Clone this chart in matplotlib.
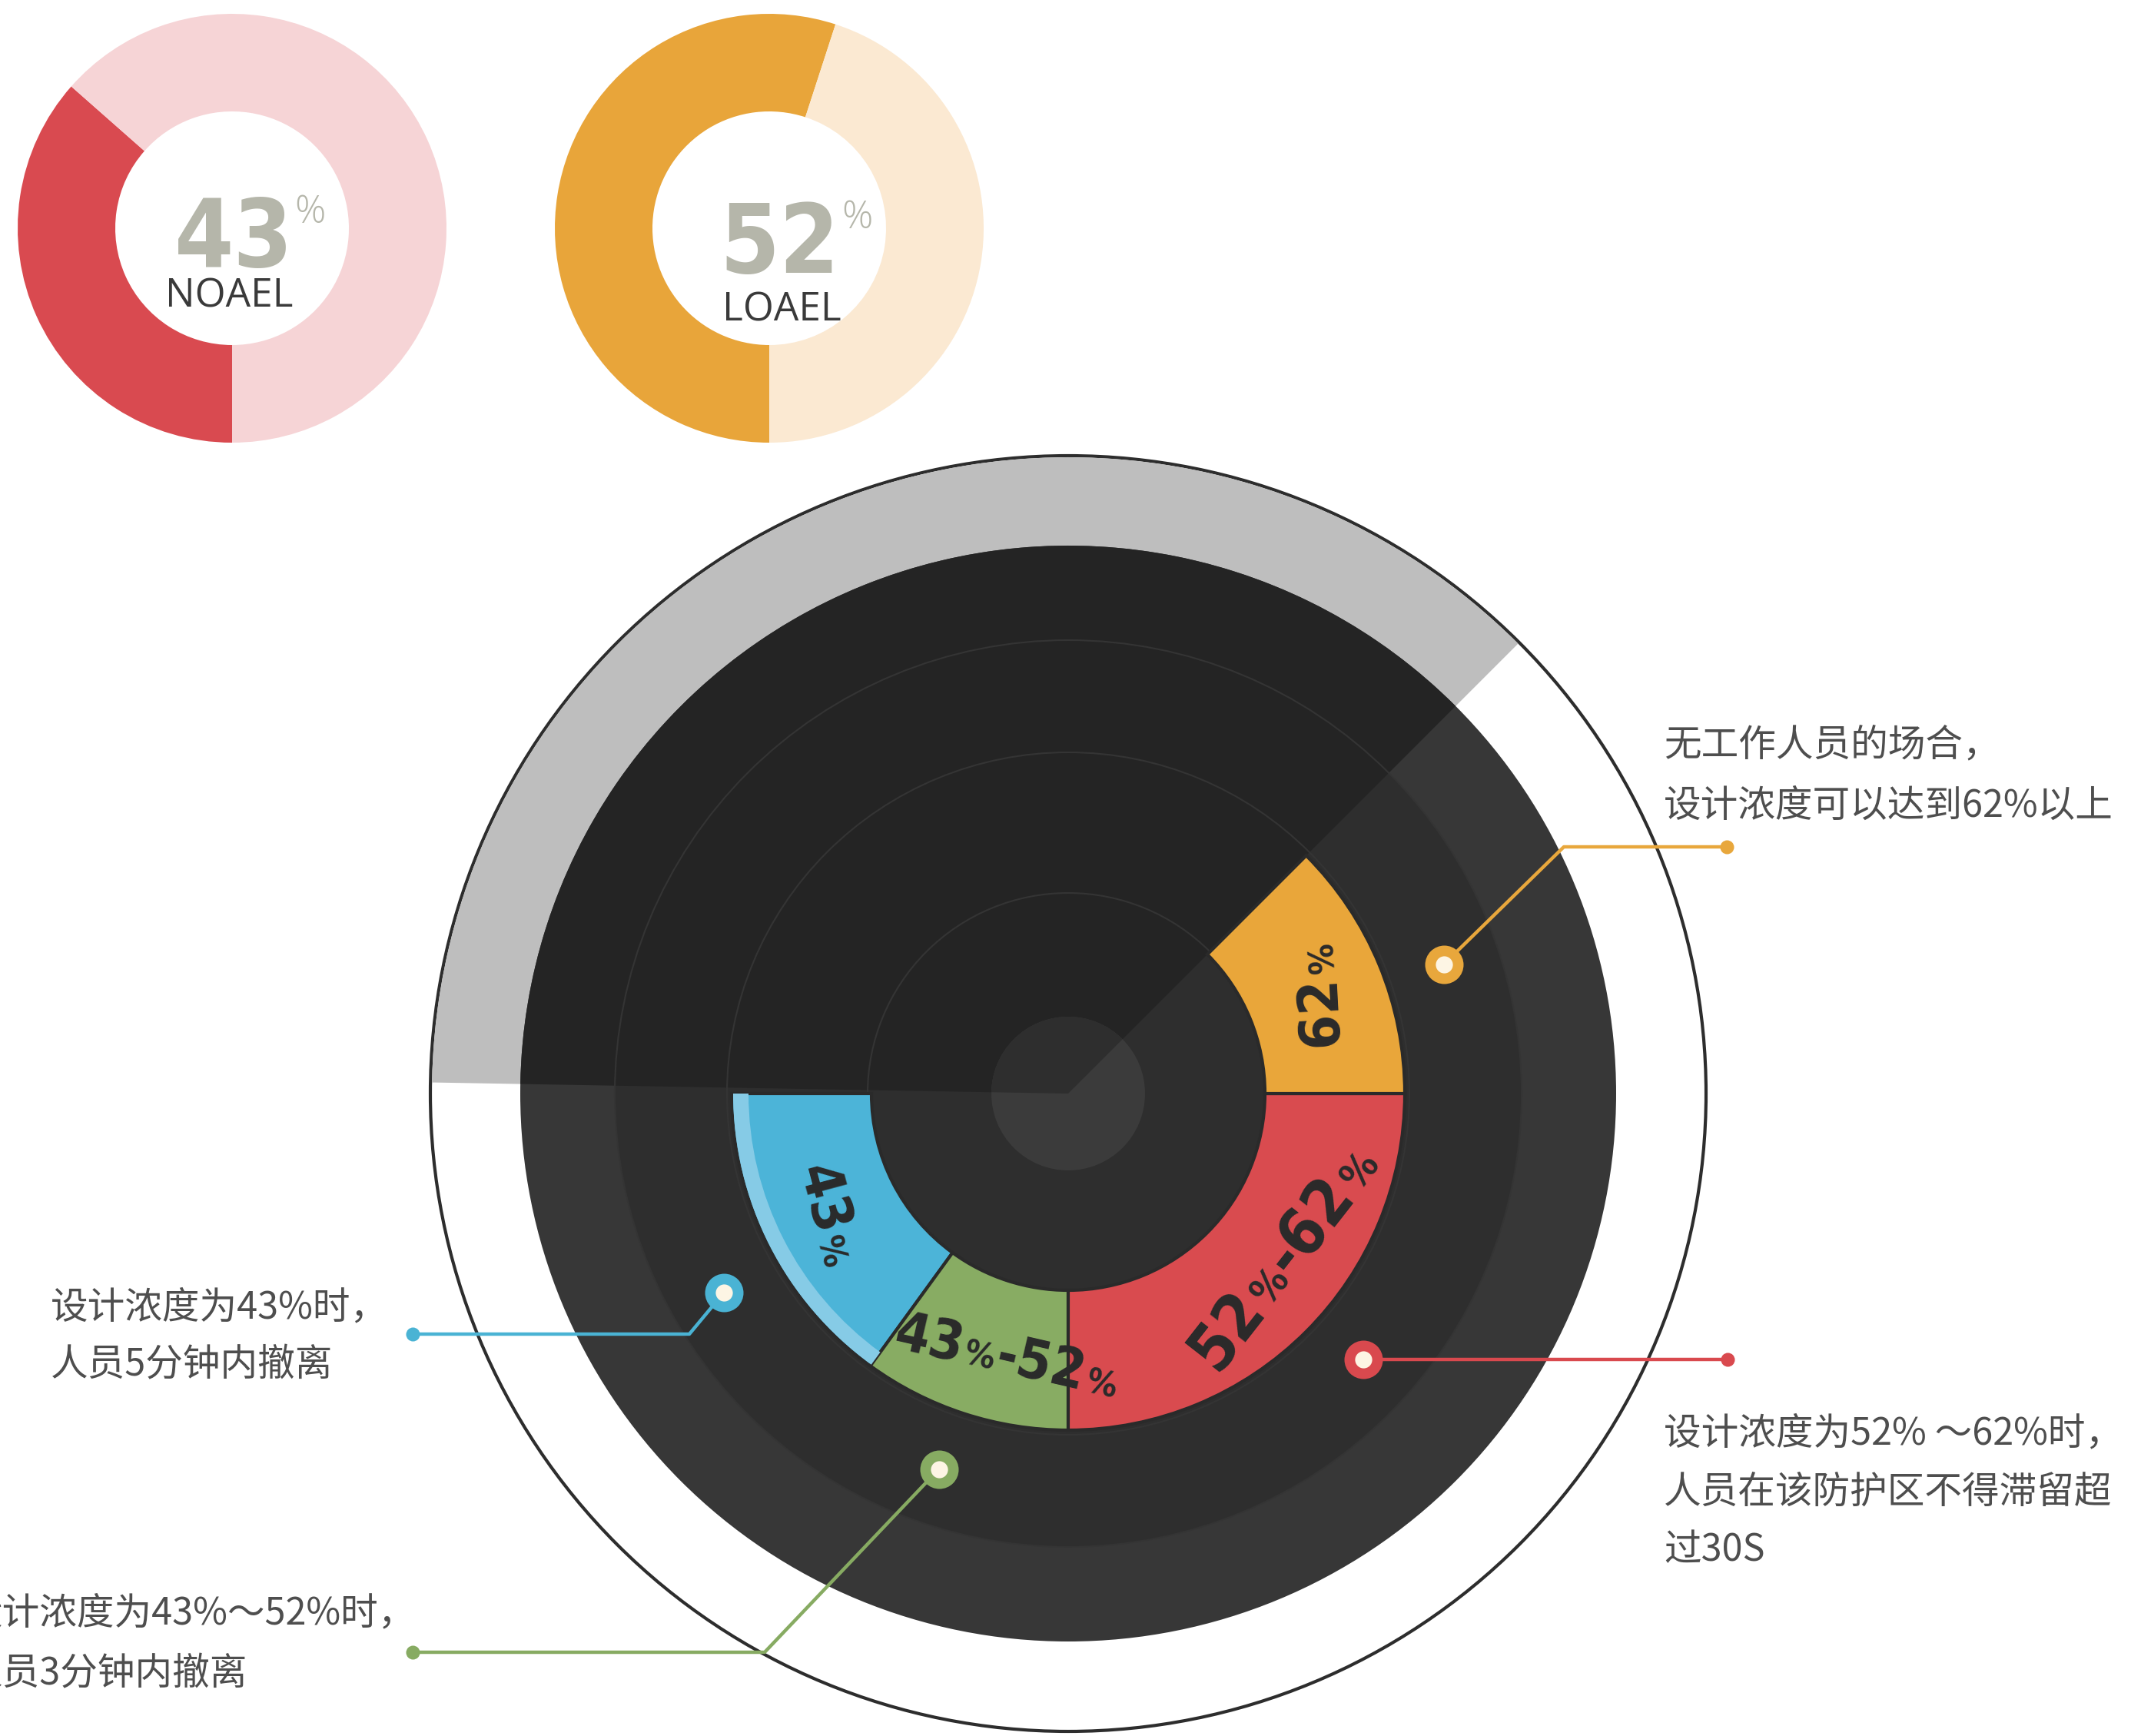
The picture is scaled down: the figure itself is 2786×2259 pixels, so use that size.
import re
import matplotlib
matplotlib.use("Agg")
import matplotlib.pyplot as plt
import numpy as np
from matplotlib import font_manager
from matplotlib.font_manager import FontProperties
from matplotlib.patches import Circle, Wedge

W, H = 2786, 2259

# top donuts
donut_labels = ["NOAEL", "LOAEL"]
donut_values = ["43", "52"]
donut_shares = [0.365, 0.55]          # arc share as drawn
donut_colors = ["#d94a50", "#e8a53a"]
donut_tints = ["#f6d4d6", "#fbe9d2"]

# big ring segments, counter-clockwise from 9 o'clock (degrees)
segment_labels = ["43%", "43%-52%", "52%-62%", "62%"]
segment_spans = [54, 36, 90, 45]
segment_colors = ["#4cb4d8", "#88ac63", "#d94b4f", "#e9a63a"]
dot_angles = [-150, -109, -42, 19]

notes = [
    ["设计浓度为43%时，", "人员5分钟内撤离"],
    ["设计浓度为43%～52%时，", "人员3分钟内撤离"],
    ["设计浓度为52% ～62%时，", "人员在该防护区不得滞留超", "过30S"],
    ["无工作人员的场合，", "设计浓度可以达到62%以上"],
]

available = {f.name for f in font_manager.fontManager.ttflist}
SANS = next((f for f in ["Open Sans", "Lato", "DejaVu Sans"] if f in available), "DejaVu Sans")
CJK = ["Noto Sans CJK SC", "DejaVu Sans"]


def find_condensed_bold():
    best, best_score = None, None
    for f in font_manager.fontManager.ttflist:
        name = f.name
        stretch = str(f.stretch)
        cond = ("Narrow" in name or "Cond" in name
                or stretch in ("condensed", "semi-condensed", "extra-condensed"))
        if not cond or f.style != "normal":
            continue
        try:
            w = int(f.weight)
        except (TypeError, ValueError):
            w = 700 if "bold" in str(f.weight).lower() else 400
        score = -abs(w - 700)
        if stretch == "extra-condensed" or "Extra" in name:
            score -= 150
        if best_score is None or score > best_score:
            best, best_score = f, score
    return best


cond_font = find_condensed_bold()


def bold_fp(size):
    if cond_font is not None:
        return FontProperties(fname=cond_font.fname, size=size)
    return FontProperties(family="Roboto" if "Roboto" in available else "DejaVu Sans",
                          weight="bold", size=size)


def Y(y):
    # layout measured top-down in pixels
    return H - y


fig = plt.figure(figsize=(W / 100, H / 100), dpi=100)
ax = fig.add_axes([0, 0, 1, 1])
renderer = fig.canvas.get_renderer()
PX = 100 / 72   # pixels per point


def text_width(s, fp):
    return renderer.get_text_width_height_descent(s, fp, ismath=False)[0]


# ---- top donuts ----
donut_centers = [(302, 297), (1001, 297)]
for i, (cx, cy) in enumerate(donut_centers):
    s = donut_shares[i]
    ax.pie([s, 1 - s], colors=[donut_colors[i], donut_tints[i]], startangle=270,
           counterclock=False, radius=279, center=(cx, Y(cy)),
           wedgeprops=dict(width=127, linewidth=0), frame=True)

num_target = [119, 120]      # width of the big number, px
num_base = [347, 355]
group_center = [325, 1036]
tag_pos = [(298, 400), (1017, 418)]
for i in range(2):
    size = 98
    fp = bold_fp(size)
    wn = text_width(donut_values[i], fp)
    if wn > num_target[i] * 1.3:
        size = size * num_target[i] * 1.3 / wn
        fp = bold_fp(size)
        wn = text_width(donut_values[i], fp)
    pfp = FontProperties(family=SANS, weight="light", size=36)
    wp = text_width("%", pfp)
    gap = 2
    left = group_center[i] - (wn + gap + wp) / 2
    digit_h = 0.72 * size * PX
    pct_h = 0.72 * 36 * PX
    ax.text(left, Y(num_base[i]), donut_values[i], fontproperties=fp,
            color="#b5b6aa", ha="left", va="baseline")
    ax.text(left + wn + gap, Y(num_base[i] - digit_h - 4 + pct_h), "%", fontproperties=pfp,
            color="#b5b6aa", ha="left", va="baseline")
    ax.text(tag_pos[i][0], Y(tag_pos[i][1]), donut_labels[i], family=SANS,
            fontsize=37, color="#3a3a3a", ha="center", va="baseline")

# ---- big dial ----
C = (1390, Y(1423))
R_OUT, R_DISK, R_BAND = 830, 713, 590
R_RING, RING_W, R_CORE = 438, 182, 100
UP0, UP1 = 45, 179   # darker upper sector

ax.add_patch(Circle(C, R_OUT, facecolor="white", edgecolor="#2d2d2d", lw=3, zorder=1))
ax.add_patch(Wedge(C, R_OUT - 2, UP0, UP1, width=R_OUT - R_DISK, facecolor="#bebebe",
                   lw=0, zorder=1.1))
ax.add_patch(Circle(C, R_DISK, facecolor="#373737", lw=0, zorder=1.2))
ax.add_patch(Circle(C, R_BAND, facecolor="#2e2e2e", lw=0, zorder=1.3))
ax.add_patch(Wedge(C, R_DISK, UP0, UP1, facecolor="#242424", lw=0, zorder=1.4))
for r in [R_BAND, R_RING + 6, R_RING - RING_W + 5]:
    ax.add_patch(Circle(C, r, fill=False, edgecolor="#343434", lw=1.5, zorder=1.5))
ax.add_patch(Circle(C, R_CORE, facecolor="#3b3b3b", lw=0, zorder=1.6))
ax.add_patch(Wedge(C, R_CORE, UP0, UP1, facecolor="#2e2e2e", lw=0, zorder=1.7))

wedges, _ = ax.pie(segment_spans + [360 - sum(segment_spans)],
                   colors=segment_colors + ["none"], startangle=180, counterclock=True,
                   radius=R_RING, center=C, frame=True,
                   wedgeprops=dict(width=RING_W, edgecolor="#2a2a2a", linewidth=3))
wedges[-1].set_visible(False)
for w in wedges[:-1]:
    w.set_zorder(2)
ax.add_patch(Wedge(C, R_RING - 2, 180, 180 + segment_spans[0], width=20,
                   facecolor="#86cbe6", lw=0, zorder=2.1))


def draw_label(text, cx, cy, rot, size, target, color="#2a2a2a"):
    tokens = re.findall(r"[^%]+|%", text)

    def layout(sz):
        props = [bold_fp(sz * 0.62) if t == "%" else bold_fp(sz) for t in tokens]
        widths = [text_width(t, p) * 1.04 for t, p in zip(tokens, props)]
        return props, widths

    props, widths = layout(size)
    if sum(widths) > target * 1.1:
        size = size * target * 1.1 / sum(widths)
        props, widths = layout(size)
    u = np.array([np.cos(np.radians(rot)), np.sin(np.radians(rot))])
    n = np.array([-u[1], u[0]])
    cap = size * 0.72 * PX
    start = np.array([cx, cy]) - u * sum(widths) / 2 - n * cap / 2
    pos = 0.0
    for t, p, w in zip(tokens, props, widths):
        x, y = start + u * pos
        ax.text(x, y, t, fontproperties=p, rotation=rot, rotation_mode="anchor",
                ha="left", va="baseline", color=color, zorder=3)
        pos += w


label_angles = [-153, -103, -37, 22]
label_rots = [-75, -13, 52, 93]
label_sizes = [58, 56, 64, 58]
label_lengths = [124, 272, 316, 124]
for k, txt in enumerate(segment_labels):
    a = np.radians(label_angles[k])
    r = R_RING - RING_W / 2
    draw_label(txt, C[0] + r * np.cos(a), C[1] + r * np.sin(a), label_rots[k],
               label_sizes[k], label_lengths[k])

# ---- call-outs ----
dot_r = 517
elbows = [(897, 1736), (995, 2150), None, (2035, 1102)]
ends = [(537, 1736), (537, 2150), (2248, None), (2247, 1102)]
line_colors = ["#4ab3d4", "#87ab62", "#d9494e", "#e8a73c"]
for k in range(4):
    a = np.radians(dot_angles[k])
    dx, dy = C[0] + dot_r * np.cos(a), C[1] + dot_r * np.sin(a)
    xs, ys = [dx], [dy]
    if elbows[k] is not None:
        xs.append(elbows[k][0])
        ys.append(Y(elbows[k][1]))
    ex = ends[k][0]
    ey = dy if ends[k][1] is None else Y(ends[k][1])
    xs.append(ex)
    ys.append(ey)
    ax.plot(xs, ys, color=line_colors[k], lw=3.2, solid_capstyle="round", zorder=4)
    ax.plot(ex, ey, "o", ms=13, color=line_colors[k], mec="none", zorder=4)
    ax.plot(dx, dy, "o", ms=36, color=line_colors[k], mec="none", zorder=5)
    ax.plot(dx, dy, "o", ms=16, color="#fdf5e4", mec="none", zorder=6)

note_x = [66, -45, 2165, 2165]
note_y = [[1702, 1777], [2100, 2179], [1866, 1942, 2017], [970, 1049]]
for k, lines in enumerate(notes):
    for line, ly in zip(lines, note_y[k]):
        ax.text(note_x[k], Y(ly), line, family=CJK, fontsize=35, color="#4e4e4e",
                ha="left", va="center", zorder=6)

ax.set_xlim(0, W)
ax.set_ylim(0, H)
ax.set_aspect("auto")
ax.axis("off")
fig.savefig("out.png", dpi=100, facecolor="white")
